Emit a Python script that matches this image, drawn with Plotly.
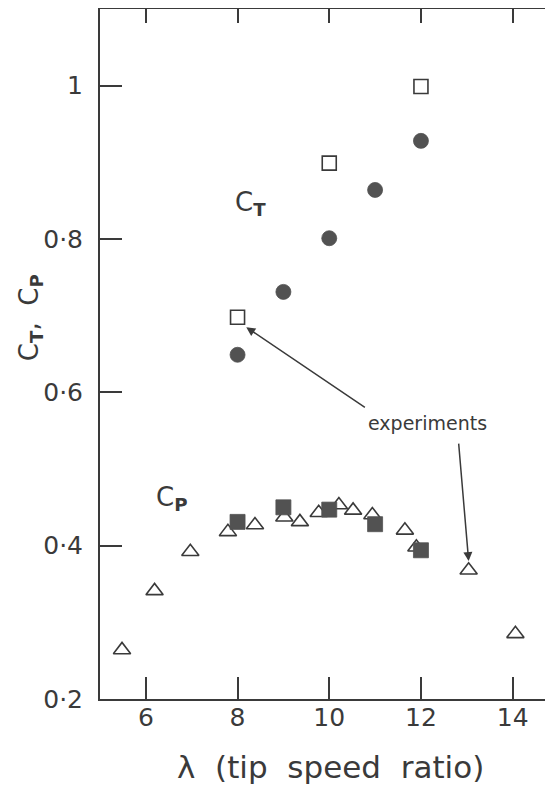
import plotly.graph_objects as go

# ---- data ----
ct_theory_lambda = [8, 9, 10, 11, 12]
ct_theory = [0.649, 0.731, 0.801, 0.864, 0.928]

ct_exp_lambda = [8, 10, 12]
ct_exp = [0.698, 0.899, 0.999]

cp_theory_lambda = [8, 9, 10, 11, 12]
cp_theory = [0.431, 0.450, 0.447, 0.428, 0.394]

cp_exp_lambda = [5.48, 6.19, 6.97, 7.79, 8.38, 9.02, 9.36, 9.77, 10.21, 10.52,
                 10.94, 11.65, 11.90, 13.04, 14.06]
cp_exp = [0.264, 0.341, 0.392, 0.418, 0.427, 0.437, 0.431, 0.443, 0.453, 0.446,
          0.440, 0.420, 0.398, 0.368, 0.285]

x_ticks = [6, 8, 10, 12, 14]
x_ticktext = ["6", "8", "10", "12", "14"]
y_ticks = [0.2, 0.4, 0.6, 0.8, 1.0]
y_ticktext = ["0·2", "0·4", "0·6", "0·8", "1"]

X_RANGE = [5, 14.88]
Y_RANGE = [0.2, 1.1]

INK = "#3a3a3a"
FILL = "#525252"
FONT = "DejaVu Sans"

fig = go.Figure()

# C_P experiments (open triangles) – drawn first so filled squares cover them
fig.add_trace(go.Scatter(
    x=cp_exp_lambda, y=cp_exp, mode="markers",
    marker=dict(symbol="triangle-up-open", size=15, color=INK,
                line=dict(width=1.6, color=INK)),
    showlegend=False, hoverinfo="skip"))

# C_P theory (filled squares)
fig.add_trace(go.Scatter(
    x=cp_theory_lambda, y=cp_theory, mode="markers",
    marker=dict(symbol="square", size=15, color=FILL,
                line=dict(width=0.8, color=FILL)),
    showlegend=False, hoverinfo="skip"))

# C_T theory (filled circles)
fig.add_trace(go.Scatter(
    x=ct_theory_lambda, y=ct_theory, mode="markers",
    marker=dict(symbol="circle", size=15, color=FILL,
                line=dict(width=0.8, color=FILL)),
    showlegend=False, hoverinfo="skip"))

# C_T experiments (open squares) on the overlay axes (top/right ticks)
fig.add_trace(go.Scatter(
    x=ct_exp_lambda, y=ct_exp, mode="markers", xaxis="x2", yaxis="y2",
    marker=dict(symbol="square-open", size=14, color=INK,
                line=dict(width=1.6, color=INK)),
    showlegend=False, hoverinfo="skip"))

tickfont = dict(family=FONT, size=25, color=INK)

fig.update_layout(
    width=545, height=779,
    margin=dict(l=92, r=0, t=1, b=88),
    paper_bgcolor="white", plot_bgcolor="white",
    font=dict(family=FONT, color=INK),
    xaxis=dict(range=X_RANGE, showgrid=False, zeroline=False,
               showline=True, linecolor=INK, linewidth=2, mirror=True,
               ticks="inside", ticklen=22, tickwidth=1.6, tickcolor=INK,
               tickvals=x_ticks, ticktext=x_ticktext, tickfont=tickfont,
               ticklabelstandoff=-5),
    yaxis=dict(range=Y_RANGE, showgrid=False, zeroline=False,
               showline=True, linecolor=INK, linewidth=2, mirror=False,
               ticks="inside", ticklen=22, tickwidth=1.6, tickcolor=INK,
               tickvals=y_ticks, ticktext=y_ticktext, tickfont=tickfont,
               ticklabelstandoff=10),
    xaxis2=dict(range=X_RANGE, overlaying="x", side="top", anchor="y2",
                showgrid=False, zeroline=False, showline=False,
                ticks="inside", ticklen=14, tickwidth=1.6, tickcolor=INK,
                tickvals=x_ticks, showticklabels=False),
    yaxis2=dict(range=Y_RANGE, overlaying="y", side="right", anchor="x2",
                showgrid=False, zeroline=False, showline=False,
                ticks="inside", ticklen=7, tickwidth=1.6, tickcolor=INK,
                tickvals=y_ticks, showticklabels=False),
)

annotations = [
    # curve labels
    dict(x=8.28, y=0.846, xref="x", yref="y", showarrow=False,
         text="C<sub><b>T</b></sub>", font=dict(size=26, family=FONT, color=INK)),
    dict(x=6.58, y=0.462, xref="x", yref="y", showarrow=False,
         text="C<sub><b>P</b></sub>", font=dict(size=26, family=FONT, color=INK)),
    # experiments label
    dict(x=12.14, y=0.560, xref="x", yref="y", showarrow=False,
         text="experiments", font=dict(size=19, family=FONT, color=INK)),
    # arrows
    dict(x=8.19, y=0.685, ax=10.81, ay=0.579, xref="x", yref="y",
         axref="x", ayref="y", text="", showarrow=True, arrowhead=2,
         arrowsize=1.2, arrowwidth=1.5, arrowcolor=INK, standoff=0),
    dict(x=13.04, y=0.380, ax=12.82, ay=0.535, xref="x", yref="y",
         axref="x", ayref="y", text="", showarrow=True, arrowhead=2,
         arrowsize=1.2, arrowwidth=1.5, arrowcolor=INK, standoff=0),
    # axis titles
    dict(x=-0.1545, y=0.552, xref="paper", yref="paper", showarrow=False,
         textangle=-90, xanchor="center", yanchor="middle",
         text="C<sub><b>T</b></sub>,\u00a0\u00a0C<sub><b>P</b></sub>",
         font=dict(size=26, family=FONT, color=INK)),
    dict(x=0.508, y=-0.098, xref="paper", yref="paper", showarrow=False,
         xanchor="center", yanchor="middle",
         text="λ\u00a0\u00a0(tip\u00a0\u00a0speed\u00a0\u00a0ratio)",
         font=dict(size=31, family=FONT, color=INK)),
]
fig.update_layout(annotations=annotations)

fig.write_html("out.html")
